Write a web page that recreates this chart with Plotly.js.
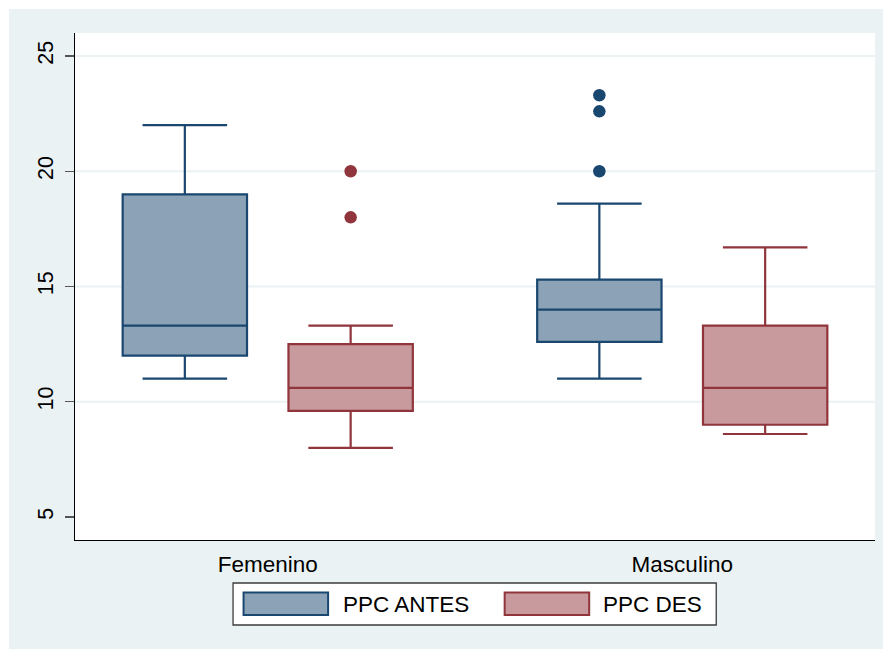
<!DOCTYPE html>
<html>
<head>
<meta charset="utf-8">
<script src="https://cdn.plot.ly/plotly-3.0.1.min.js"></script>
<style>
  html, body { margin: 0; padding: 0; background: #ffffff; }
  #chart { position: absolute; left: 9px; top: 9px; width: 874px; height: 640px; }
</style>
</head>
<body>
<div id="chart"></div>
<script>
// ---- Data ----
const categories = ['Femenino', 'Masculino'];
const seriesNames = ['PPC ANTES', 'PPC DES'];

const antesLow    = [11.0, 11.0];
const antesQ1     = [12.0, 12.6];
const antesMedian = [13.3, 14.0];
const antesQ3     = [19.0, 15.3];
const antesHigh   = [22.0, 18.6];
const antesOutliers = [[], [20.0, 22.6, 23.3]];

const desLow    = [8.0, 8.6];
const desQ1     = [9.6, 9.0];
const desMedian = [10.6, 10.6];
const desQ3     = [12.5, 13.3];
const desHigh   = [13.3, 16.7];
const desOutliers = [[18.0, 20.0], []];

const yTicks = [5, 10, 15, 20, 25];

// ---- Styling ----
const NAVY = '#1A476F', NAVY_FILL = '#8CA3B7';
const MAROON = '#90353B', MAROON_FILL = '#C89A9D';
const BG = '#EAF2F3';
const FONT = 'Liberation Sans, Arial, Helvetica, sans-serif';
const OFFSET = 0.2, BOXW = 0.3;

const catIdx = categories.map((c, i) => i);

function boxTrace(name, offset, low, q1, med, q3, high, line, fill) {
  return {
    type: 'box', name: name,
    x: catIdx.map(i => i + offset),
    lowerfence: low, q1: q1, median: med, q3: q3, upperfence: high,
    width: BOXW, whiskerwidth: 0.68,
    line: { color: line, width: 2.2 }, fillcolor: fill,
    boxpoints: false, showlegend: false, hoverinfo: 'skip'
  };
}
function outlierTrace(name, offset, outs, color) {
  const xs = [], ys = [];
  outs.forEach((arr, i) => arr.forEach(v => { xs.push(i + offset); ys.push(v); }));
  return {
    type: 'scatter', mode: 'markers', name: name, x: xs, y: ys,
    marker: { color: color, size: 12.5, line: { width: 0 } },
    showlegend: false, hoverinfo: 'skip'
  };
}

const traces = [
  boxTrace(seriesNames[0], -OFFSET, antesLow, antesQ1, antesMedian, antesQ3, antesHigh, NAVY, NAVY_FILL),
  boxTrace(seriesNames[1], OFFSET, desLow, desQ1, desMedian, desQ3, desHigh, MAROON, MAROON_FILL),
  outlierTrace(seriesNames[0], -OFFSET, antesOutliers, NAVY),
  outlierTrace(seriesNames[1], OFFSET, desOutliers, MAROON)
];

// ---- Pixel geometry helpers (image coords -> paper coords) ----
const PL = 75, PR = 874.7, PT = 33, PB = 540;
const px = x => (x - PL) / (PR - PL);
const py = y => (PB - y) / (PB - PT);

const shapes = [];
// gridlines (no gridline at the lowest tick)
yTicks.slice(1).forEach(v => shapes.push({
  type: 'line', xref: 'paper', yref: 'y', x0: 0, x1: 1, y0: v, y1: v,
  line: { color: BG, width: 2 }, layer: 'below'
}));
// custom legend
shapes.push({ type: 'rect', xref: 'paper', yref: 'paper',
  x0: px(233), x1: px(716), y0: py(625), y1: py(583),
  line: { color: '#3c3c3c', width: 1.3 }, fillcolor: '#ffffff' });
shapes.push({ type: 'rect', xref: 'paper', yref: 'paper',
  x0: px(243.5), x1: px(328), y0: py(615), y1: py(592.5),
  line: { color: NAVY, width: 2 }, fillcolor: NAVY_FILL });
shapes.push({ type: 'rect', xref: 'paper', yref: 'paper',
  x0: px(504.5), x1: px(589), y0: py(615), y1: py(592.5),
  line: { color: MAROON, width: 2 }, fillcolor: MAROON_FILL });

const annotations = [
  { xref: 'paper', yref: 'paper', x: px(341), y: py(604), xanchor: 'left', yanchor: 'middle',
    text: seriesNames[0], showarrow: false, font: { family: FONT, size: 22.5, color: '#000' } },
  { xref: 'paper', yref: 'paper', x: px(601), y: py(604), xanchor: 'left', yanchor: 'middle',
    text: seriesNames[1], showarrow: false, font: { family: FONT, size: 22.5, color: '#000' } }
];

const layout = {
  width: 874, height: 640,
  margin: { l: 66, r: 8, t: 24, b: 109, pad: 0 },
  paper_bgcolor: BG, plot_bgcolor: '#ffffff',
  font: { family: FONT, color: '#000' },
  showlegend: false,
  xaxis: {
    range: [-0.465, 1.465], tickvals: catIdx, ticktext: categories,
    ticks: '', showgrid: false, zeroline: false,
    showline: true, linecolor: '#000', linewidth: 1.3,
    tickfont: { family: FONT, size: 22.5, color: '#000' },
    ticklabelstandoff: 4, fixedrange: true
  },
  yaxis: {
    range: [4, 26], tickvals: yTicks, ticktext: yTicks.map(String),
    ticks: 'outside', ticklen: 9, tickwidth: 1.3, tickcolor: '#555',
    tickangle: -90, showgrid: false, zeroline: false,
    showline: true, linecolor: '#000', linewidth: 1.3,
    tickfont: { family: FONT, size: 21.5, color: '#000' },
    ticklabelstandoff: 3, fixedrange: true
  },
  shapes: shapes,
  annotations: annotations
};

Plotly.newPlot('chart', traces, layout, { staticPlot: true, displayModeBar: false });
</script>
</body>
</html>
